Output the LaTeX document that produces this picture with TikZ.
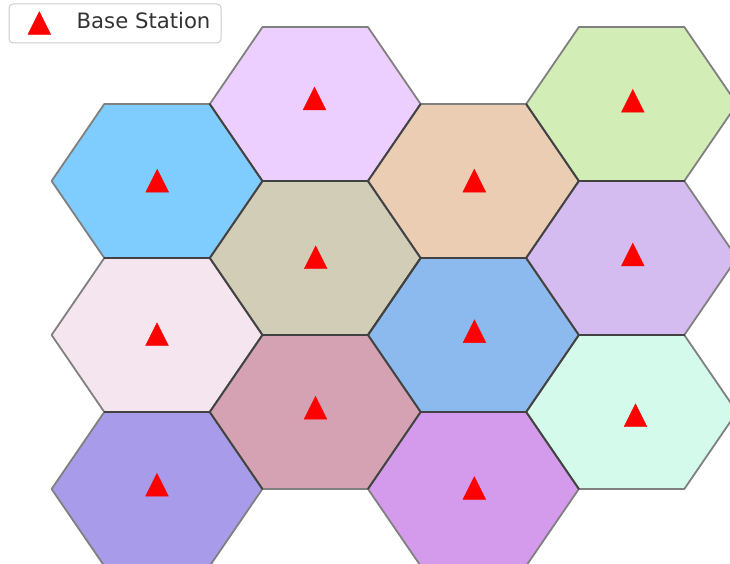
\documentclass[tikz,border=0pt]{standalone}
\usepackage{fontspec}
\setmainfont{DejaVu Sans}
\definecolor{cA}{HTML}{7FCCFF}
\definecolor{cB}{HTML}{ECCFFF}
\definecolor{cC}{HTML}{EBCDB4}
\definecolor{cD}{HTML}{D3EDB6}
\definecolor{cE}{HTML}{D2CDB6}
\definecolor{cF}{HTML}{D4BBF0}
\definecolor{cG}{HTML}{F5E5EF}
\definecolor{cH}{HTML}{8CBAEE}
\definecolor{cI}{HTML}{D4A2B3}
\definecolor{cJ}{HTML}{D3FAEA}
\definecolor{cK}{HTML}{A89BEA}
\definecolor{cL}{HTML}{D49AEC}
\definecolor{edgeout}{HTML}{808080}
\definecolor{edgein}{HTML}{424242}
\tikzset{
  hexedge/.style={draw=edgeout, line width=1.8pt, line join=round},
  sharededge/.style={draw=edgein, line width=1.8pt, line join=round, line cap=round},
  bsmark/.style={fill=red, draw=red, line width=0.4pt, line join=miter},
  legendbox/.style={draw=black!20, fill=white, rounded corners=4pt, line width=1pt},
  legendtext/.style={anchor=base west, inner sep=0pt, text=black!80, font=\fontsize{21.2}{25}\selectfont}
}
\begin{document}
\begin{tikzpicture}[x=1pt,y=-1pt]
\useasboundingbox (0,0) rectangle (730,564);
\clip (0,0) rectangle (730,564);
% cells: name / centre x / centre y / colour
\def\cells{h1/157/181/cA, h2/315.2/104/cB, h3/473.4/181/cC, h4/631.6/104/cD,
  h5/315.2/258/cE, h6/631.6/258/cF, h7/157/335/cG, h8/473.4/335/cH,
  h9/315.2/412/cI, h10/631.6/412/cJ, h11/157/489/cK, h12/473.4/489/cL}
\foreach \n/\cx/\cy/\col in \cells {
  \coordinate (\n) at (\cx,\cy);
  \coordinate (\n-0) at (\cx+105.4,\cy);
  \coordinate (\n-1) at (\cx+52.7,\cy-77);
  \coordinate (\n-2) at (\cx-52.7,\cy-77);
  \coordinate (\n-3) at (\cx-105.4,\cy);
  \coordinate (\n-4) at (\cx-52.7,\cy+77);
  \coordinate (\n-5) at (\cx+52.7,\cy+77);
  \fill[\col] (\n-0) -- (\n-1) -- (\n-2) -- (\n-3) -- (\n-4) -- (\n-5) -- cycle;
}
\foreach \n/\cx/\cy/\col in \cells {
  \path[hexedge] (\n-0) -- (\n-1) -- (\n-2) -- (\n-3) -- (\n-4) -- (\n-5) -- cycle;
}
% edges shared by two cells are darker
\path[sharededge] (h5-0) -- (h5-1) -- (h5-2) -- (h5-3) -- (h5-4) -- (h5-5) -- cycle;
\path[sharededge] (h8-0) -- (h8-1) -- (h8-2) -- (h8-3) -- (h8-4) -- (h8-5) -- cycle;
\path[sharededge] (h1-0) -- (h1-1);
\path[sharededge] (h1-4) -- (h1-5);
\path[sharededge] (h7-5) -- (h7-0);
\path[sharededge] (h7-4) -- (h7-5);
\path[sharededge] (h11-0) -- (h11-1);
\path[sharededge] (h9-5) -- (h9-0);
\path[sharededge] (h2-5) -- (h2-0);
\path[sharededge] (h3-0) -- (h3-1);
\path[sharededge] (h3-5) -- (h3-0);
\path[sharededge] (h4-4) -- (h4-5);
\path[sharededge] (h6-4) -- (h6-5);
\path[sharededge] (h10-3) -- (h10-4);
% base stations: name / x / y
\foreach \m/\bx/\by in {b1/157.2/180.7, b2/314.5/98.5, b3/474.3/180.7, b4/632.8/100.8,
  b5/315.7/257.3, b6/632.8/254.5, b7/157/334.3, b8/474.5/331.2,
  b9/315.5/407.7, b10/635.5/415.3, b11/157/484.7, b12/474.3/488} {
  \coordinate (\m) at (\bx,\by);
  \path[bsmark] (\bx,\by-11.4) -- (\bx+11.4,\by+11.4) -- (\bx-11.4,\by+11.4) -- cycle;
}
% legend
\path[legendbox] (9,4) rectangle (221,43);
\coordinate (lm) at (39.3,23);
\path[bsmark] (39.3,11.6) -- (50.7,34.4) -- (27.9,34.4) -- cycle;
\node[legendtext] (lbl) at (76.5,29) {Base Station};
\end{tikzpicture}
\end{document}
